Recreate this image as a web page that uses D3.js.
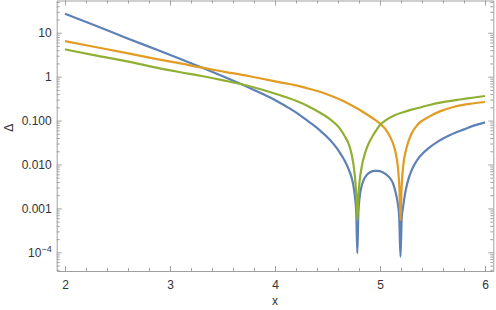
<!DOCTYPE html>
<html>
<head>
<meta charset="utf-8">
<script src="https://cdn.jsdelivr.net/npm/d3@7"></script>
<style>
  html, body { margin: 0; padding: 0; background: #fff; }
  svg { display: block; }
  text { font-family: "Liberation Sans", Arial, sans-serif; }
</style>
</head>
<body>
<svg id="chart" width="496" height="310"></svg>
<script>
// ---- data ----
const xTicks = [2, 3, 4, 5, 6];
const yTicks = [10, 1, 0.1, 0.01, 0.001, 0.0001];
const yTickLabels = ["10", "1", "0.100", "0.010", "0.001", "10^-4"];
const xLabel = "x";
const yLabel = "Δ";

const blueX = [2.00, 2.30, 2.59, 2.90, 3.10, 3.29, 3.52, 3.76, 3.95, 4.05, 4.15, 4.24, 4.33, 4.43, 4.52, 4.58, 4.62, 4.66,
  4.70, 4.73, 4.746, 4.762, 4.774, 4.784,
  4.794, 4.806, 4.823, 4.84, 4.873, 4.91, 4.95, 4.98, 5.02, 5.076, 5.124, 5.155, 5.170, 5.183, 5.195,
  5.207, 5.219, 5.235, 5.250, 5.275, 5.298, 5.33, 5.362, 5.41, 5.457, 5.55, 5.667, 5.80, 5.90, 6.00];
const blueY = [27.0, 14.3, 7.53, 3.89, 2.51, 1.66, 0.977, 0.550, 0.339, 0.251, 0.182, 0.132, 0.0912, 0.0589, 0.0372, 0.0251, 0.0182, 0.0126,
  0.00794, 0.00501, 0.00339, 0.00178, 0.000794, 0.0000955,
  0.000794, 0.00178, 0.00309, 0.00417, 0.00575, 0.00676, 0.00716, 0.00716, 0.00676, 0.00550, 0.00372, 0.00200, 0.00126, 0.000631, 0.0000794,
  0.000631, 0.00105, 0.00191, 0.00295, 0.00501, 0.00708, 0.0102, 0.0135, 0.0182, 0.0229, 0.0331, 0.0468, 0.0631, 0.0776, 0.0912];

const orangeX = [2.00, 2.30, 2.59, 2.90, 3.10, 3.29, 3.52, 3.76, 4.05, 4.20, 4.33, 4.45, 4.55, 4.65, 4.75, 4.85, 4.95, 5.00,
  5.05, 5.10, 5.13, 5.155, 5.172, 5.185, 5.195,
  5.205, 5.22, 5.25, 5.30, 5.36, 5.46, 5.57, 5.70, 5.85, 6.00];
const orangeY = [6.44, 4.68, 3.43, 2.45, 2.00, 1.62, 1.29, 1.02, 0.741, 0.631, 0.525, 0.437, 0.355, 0.279, 0.209, 0.151, 0.105, 0.0851,
  0.0646, 0.0407, 0.0275, 0.0158, 0.00794, 0.00282, 0.000537,
  0.00282, 0.00891, 0.0224, 0.0501, 0.0813, 0.120, 0.162, 0.204, 0.240, 0.265];

const greenX = [2.00, 2.30, 2.59, 2.90, 3.10, 3.29, 3.52, 3.76, 4.05, 4.20, 4.33, 4.45, 4.52, 4.57, 4.62, 4.66, 4.70,
  4.725, 4.746, 4.762, 4.774, 4.784,
  4.794, 4.806, 4.826, 4.85, 4.873, 4.90, 4.936, 4.97, 5.00, 5.05, 5.14, 5.22, 5.30, 5.40, 5.48, 5.60, 5.76, 5.88, 6.00];
const greenY = [4.17, 3.02, 2.23, 1.55, 1.26, 1.05, 0.813, 0.603, 0.376, 0.282, 0.204, 0.141, 0.110, 0.0871, 0.0646, 0.0457, 0.0302,
  0.0191, 0.0105, 0.00501, 0.00200, 0.000537,
  0.00191, 0.00417, 0.00891, 0.0158, 0.0234, 0.0331, 0.0468, 0.0631, 0.0794, 0.100, 0.132, 0.155, 0.178, 0.204, 0.229, 0.263, 0.302, 0.331, 0.363];

const seriesNames = ["blue", "orange", "green"];
const seriesColors = ["#5e81b5", "#e19c24", "#8fb032"];

// ---- layout ----
const svg = d3.select("#chart");
const pLeft = 56.7, pRight = 493.3, pTop = 0.5, pBottom = 271;
const x = d3.scaleLinear().domain([1.921, 6.079]).range([pLeft, pRight]);
const y = d3.scaleLog().domain([Math.pow(10, -4.425), Math.pow(10, 1.734)]).range([pBottom, pTop]);

const frameColor = "#a0a0a0";
const labelColor = "#333";

// minor ticks
const xMinor = [];
for (let v = 2.0; v <= 6.0001; v += 0.2) {
  const r = Math.round(v * 10) / 10;
  if (Math.abs(r - Math.round(r)) > 1e-6) xMinor.push(r);
}
const yMinor = [];
for (let k = -5; k <= 1; k++) {
  for (let m = 2; m <= 9; m++) {
    const v = m * Math.pow(10, k);
    if (v > y.domain()[0] && v < y.domain()[1]) yMinor.push(v);
  }
}

function styleAxis(g) {
  g.selectAll("path.domain").attr("stroke", frameColor).attr("stroke-width", 1);
  g.selectAll(".tick line").attr("stroke", frameColor).attr("stroke-width", 1);
  g.selectAll(".tick text").attr("fill", labelColor).style("font-size", "12px")
    .style("font-family", "'Liberation Sans', Arial, sans-serif");
}

// bottom
const gB = svg.append("g").attr("transform", `translate(0,${pBottom})`)
  .call(d3.axisBottom(x).tickValues(xTicks).tickSize(-5).tickSizeOuter(0).tickPadding(9).tickFormat(d3.format("d")));
styleAxis(gB);
const gBm = svg.append("g").attr("transform", `translate(0,${pBottom})`)
  .call(d3.axisBottom(x).tickValues(xMinor).tickSize(-3).tickSizeOuter(0).tickFormat(""));
styleAxis(gBm); gBm.select("path.domain").remove();

// top
const gT = svg.append("g").attr("transform", `translate(0,${pTop})`)
  .call(d3.axisTop(x).tickValues(xTicks).tickSize(-5).tickSizeOuter(0).tickFormat(""));
styleAxis(gT);
const gTm = svg.append("g").attr("transform", `translate(0,${pTop})`)
  .call(d3.axisTop(x).tickValues(xMinor).tickSize(-3).tickSizeOuter(0).tickFormat(""));
styleAxis(gTm); gTm.select("path.domain").remove();

// left
const gL = svg.append("g").attr("transform", `translate(${pLeft},0)`)
  .call(d3.axisLeft(y).tickValues(yTicks).tickSize(-5).tickSizeOuter(0).tickFormat(""));
styleAxis(gL);
const gLm = svg.append("g").attr("transform", `translate(${pLeft},0)`)
  .call(d3.axisLeft(y).tickValues(yMinor).tickSize(-3).tickSizeOuter(0).tickFormat(""));
styleAxis(gLm); gLm.select("path.domain").remove();

// right
const gR = svg.append("g").attr("transform", `translate(${pRight},0)`)
  .call(d3.axisRight(y).tickValues(yTicks).tickSize(-5).tickSizeOuter(0).tickFormat(""));
styleAxis(gR);
const gRm = svg.append("g").attr("transform", `translate(${pRight},0)`)
  .call(d3.axisRight(y).tickValues(yMinor).tickSize(-3).tickSizeOuter(0).tickFormat(""));
styleAxis(gRm); gRm.select("path.domain").remove();

// y tick labels (with superscript for 10^-4)
const yl = svg.append("g");
yTicks.forEach((v, i) => {
  const lab = yTickLabels[i];
  const t = yl.append("text")
    .attr("x", pLeft - 5)
    .attr("y", y(v) + 4.2)
    .attr("text-anchor", "end")
    .attr("fill", labelColor)
    .style("font-size", "12px");
  if (lab.includes("^")) {
    const [base, exp] = lab.split("^");
    t.append("tspan").text(base);
    t.append("tspan").attr("dy", -5).style("font-size", "9px").text(exp.replace("-", "\u2212"));
  } else {
    t.text(lab);
  }
});

// axis labels
svg.append("text").attr("x", (x(2) + x(6)) / 2).attr("y", 305)
  .attr("text-anchor", "middle").attr("fill", labelColor).style("font-size", "12px").text(xLabel);
svg.append("text").attr("transform", `translate(13,${(pTop + pBottom) / 2 - 8}) rotate(-90)`)
  .attr("text-anchor", "middle").attr("fill", labelColor).style("font-size", "12px").text(yLabel);

// series
const seriesData = [
  d3.zip(blueX, blueY),
  d3.zip(orangeX, orangeY),
  d3.zip(greenX, greenY)
];
const line = d3.line().x(d => x(d[0])).y(d => y(d[1])).curve(d3.curveMonotoneX);
const plot = svg.append("g");
seriesData.forEach((data, i) => {
  plot.append("path")
    .datum(data)
    .attr("class", "series-" + seriesNames[i])
    .attr("fill", "none")
    .attr("stroke", seriesColors[i])
    .attr("stroke-width", 2.2)
    .attr("stroke-linejoin", "round")
    .attr("d", line);
});
</script>
</body>
</html>
